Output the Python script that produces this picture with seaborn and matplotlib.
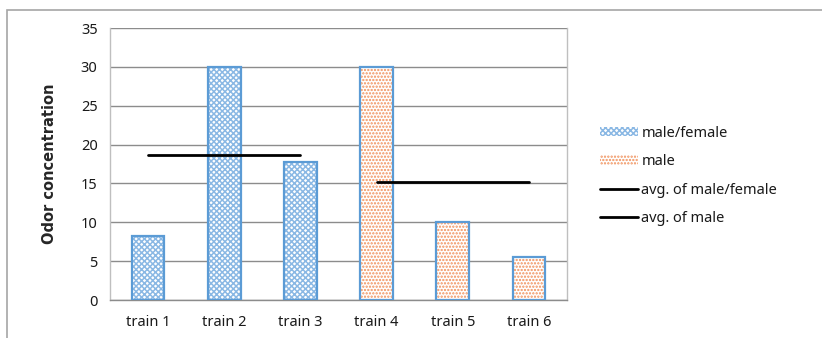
import matplotlib
matplotlib.use("Agg")
import matplotlib.pyplot as plt
import seaborn as sns
import pandas as pd
from matplotlib.patches import Rectangle
from matplotlib.lines import Line2D

trains = ["train 1", "train 2", "train 3", "train 4", "train 5", "train 6"]
values = [8.2, 30.0, 17.8, 30.0, 10.0, 5.5]
groups = ["male/female", "male/female", "male/female", "male", "male", "male"]
avg_mf_label = "avg. of male/female"
avg_m_label = "avg. of male"
y_ticks = [0, 5, 10, 15, 20, 25, 30, 35]

df = pd.DataFrame({"train": trains, "value": values, "group": groups})
avg_mf = df.loc[df.group == "male/female", "value"].mean()
avg_m = df.loc[df.group == "male", "value"].mean()

sns.set_style("white")
plt.rcParams["font.family"] = ["Noto Sans", "DejaVu Sans"]
plt.rcParams["hatch.linewidth"] = 1.1
plt.rcParams["text.color"] = "#1a1a1a"
plt.rcParams["xtick.color"] = "#1a1a1a"
plt.rcParams["ytick.color"] = "#1a1a1a"

W, H = 822, 338
fig = plt.figure(figsize=(W / 100, H / 100), dpi=100)
ax = fig.add_axes([110 / W, (H - 300) / H, (567 - 110) / W, (300 - 28) / H])

edge_blue = "#5b9bd5"
hatch_col = {"male/female": "#8ab8e4", "male": "#f0905a"}
hatch_pat = {"male/female": "xxxxxx", "male": "....."}

sns.barplot(data=df, x="train", y="value", hue="group", dodge=False,
            width=0.43, palette={"male/female": "white", "male": "white"},
            legend=False, ax=ax, zorder=3)

# hatch fill drawn by the patch itself, outline drawn on top in blue
for patch, grp in zip(ax.patches, groups):
    patch.set_hatch(hatch_pat[grp])
    patch.set_edgecolor(hatch_col[grp])
    patch.set_linewidth(0)
    x, y = patch.get_xy()
    ax.add_patch(Rectangle((x, y), patch.get_width(), patch.get_height(),
                           fill=False, edgecolor=edge_blue, linewidth=1.6, zorder=4))

# average lines spanning each group's bars
ax.plot([0, 2], [avg_mf, avg_mf], color="black", linewidth=2, zorder=5)
ax.plot([3, 5], [avg_m, avg_m], color="black", linewidth=2, zorder=5)

ax.set_xlim(-0.5, 5.5)
ax.set_ylim(0, 35)
ax.set_yticks(y_ticks)
ax.yaxis.grid(True, color="#8c8c8c", linewidth=1)
ax.set_axisbelow(True)
for side in ["top", "bottom", "left", "right"]:
    ax.spines[side].set_visible(True)
    ax.spines[side].set_color("#bfbfbf")
    ax.spines[side].set_linewidth(1)
ax.spines["top"].set_visible(False)
ax.spines["bottom"].set_color("#8c8c8c")

ax.set_xticks([i - 0.5 for i in range(7)], minor=True)
ax.set_xticks(range(6))
ax.set_xticklabels(trains, fontsize=10.5)
ax.tick_params(axis="x", which="major", length=0, pad=11)
ax.tick_params(axis="x", which="minor", length=5, color="#8c8c8c", width=1, direction="out")
ax.tick_params(axis="y", length=5, color="#8c8c8c", width=1, labelsize=10.5, pad=4)
ax.set_xlabel("")
ax.set_ylabel("Odor concentration", fontsize=10.5, fontweight="bold",
              family=["Liberation Sans Narrow", "DejaVu Sans"], labelpad=17)

handles = [
    Rectangle((0, 0), 1, 1, facecolor="white", edgecolor=hatch_col["male/female"],
              hatch=hatch_pat["male/female"], linewidth=0),
    Rectangle((0, 0), 1, 1, facecolor="white", edgecolor=hatch_col["male"],
              hatch=hatch_pat["male"], linewidth=0),
    Line2D([0], [0], color="black", linewidth=2),
    Line2D([0], [0], color="black", linewidth=2),
]
labels = ["male/female", "male", avg_mf_label, avg_m_label]
fig.legend(handles, labels, loc="upper left", bbox_to_anchor=(594 / W, 1 - 120 / H),
           frameon=False, fontsize=10.5, handlelength=2.6, handleheight=0.6,
           handletextpad=0.25, labelspacing=0.92, borderaxespad=0)

# outer chart frame
fig.patches.append(Rectangle((7 / W, -0.1), 1.1, 1 - 10 / H + 0.1,
                             transform=fig.transFigure, fill=False,
                             edgecolor="#a6a6a6", linewidth=1.2))

fig.savefig("out.png", dpi=100)
